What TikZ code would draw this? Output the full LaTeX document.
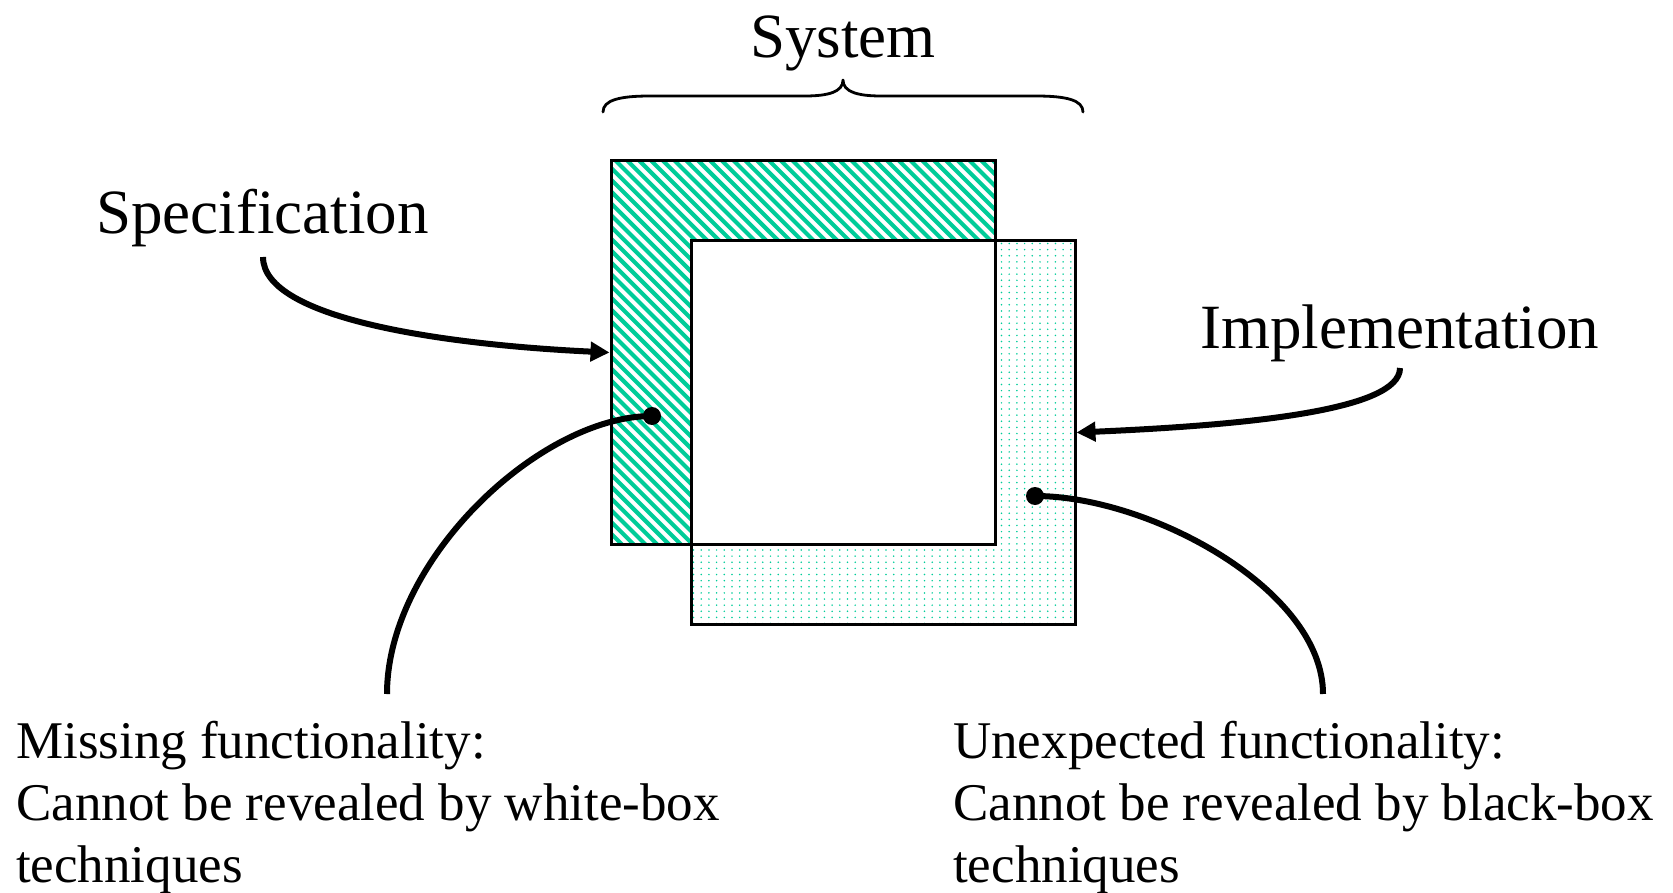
\documentclass[tikz,border=0pt]{standalone}
\usepackage{fontspec}
\setmainfont{Liberation Serif}
\usetikzlibrary{arrows.meta}
\definecolor{specgreen}{RGB}{0,204,153}

\tikzset{
  biglabel/.style={inner sep=0pt, font=\fontsize{63}{63}\selectfont},
  notelabel/.style={inner sep=0pt, align=left, font=\fontsize{53}{62}\selectfont},
  boxnode/.style={draw=black, line width=3pt, minimum width=384pt, minimum height=383pt, inner sep=0pt},
  conn/.style={line width=6pt, line cap=butt},
  endpoint/.style={circle, fill=black, minimum size=18pt, inner sep=0pt},
  bracestyle/.style={line width=2.8pt, line join=round, line cap=round},
  tipstyle/.style={-{Triangle[length=19pt,width=19pt]}}
}

\begin{document}
\begin{tikzpicture}[x=1pt, y=-1pt]
  \useasboundingbox (0,0) rectangle (1673,893);

  % box placement (centres)
  \coordinate (specC) at (803,352.5);
  \coordinate (implC) at (883,432.5);

  % hatched specification area
  \begin{scope}
    \clip (611,161) rectangle (995,544);
    \foreach \k in {-34,...,34}
      \draw[specgreen, line width=4.1pt] (611+\k*11.8,161-5) -- ++(400,400);
  \end{scope}

  % dotted implementation area
  \begin{scope}
    \clip (691,241) rectangle (1075,624);
    \foreach \i in {0,...,62}
      \foreach \j in {0,...,50}
        \fill[specgreen] (693.5+\j*7.7,243.5+\i*6.13) circle (0.85pt);
  \end{scope}

  % overlap of the two boxes is left blank
  \fill[white] (691,241) rectangle (995,544);

  % outlines
  \node[boxnode] (spec) at (specC) {};
  \node[boxnode] (impl) at (implC) {};

  % brace over the system
  \coordinate (braceL) at (603,112);
  \coordinate (braceTip) at (843,80);
  \coordinate (braceR) at (1083,112);
  \draw[bracestyle] (braceL) .. controls (603,100) and (620,96) .. (650,96)
    -- (805,96) .. controls (828,96) and (843,92) .. (braceTip)
    .. controls (843,92) and (858,96) .. (881,96)
    -- (1036,96) .. controls (1066,96) and (1083,100) .. (braceR);

  % labels (multi-line notes are anchored on their last baseline)
  \node[biglabel, anchor=base] (sysLabel) at (843,58) {System};
  \node[biglabel, anchor=base west] (specLabel) at (96,234) {Specification};
  \node[biglabel, anchor=base west] (implLabel) at (1200,348) {Implementation};
  \node[notelabel, anchor=base west] (missLabel) at (16,882)
    {Missing functionality:\\Cannot be revealed by white-box\\techniques};
  \node[notelabel, anchor=base west] (extraLabel) at (953,882)
    {Unexpected functionality:\\Cannot be revealed by black-box\\techniques};

  % arrows from the labels to the boxes
  \coordinate (specTail) at (263,257);
  \coordinate (implTail) at (1400,368);
  \draw[conn, tipstyle] (specTail) .. controls (263,320) and (450,345) .. (spec.west);
  \draw[conn, tipstyle] (implTail) .. controls (1400,410) and (1250,425) .. (impl.east);

  % callouts for the two non-overlapping regions
  \coordinate (missAt) at (652,416);
  \coordinate (extraAt) at (1035,496);
  \coordinate (missEnd) at (387,694);
  \coordinate (extraEnd) at (1323,694);
  \draw[conn] (missAt) .. controls (540,416) and (387,560) .. (missEnd);
  \draw[conn] (extraAt) .. controls (1150,496) and (1323,590) .. (extraEnd);
  \node[endpoint] (missDot) at (missAt) {};
  \node[endpoint] (extraDot) at (extraAt) {};
\end{tikzpicture}
\end{document}
